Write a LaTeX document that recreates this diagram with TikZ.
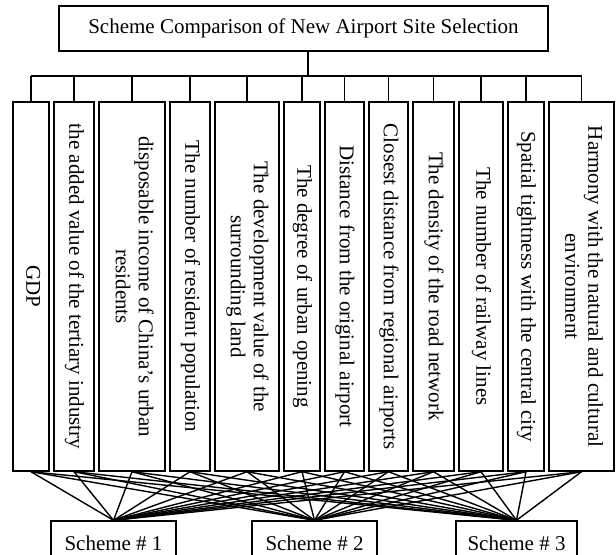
\documentclass[tikz,border=0pt]{standalone}
\usepackage{fontspec}
\setmainfont{Liberation Serif}
\usepackage{graphicx}
\usetikzlibrary{positioning}
\newcommand{\vtext}[1]{\rotatebox{-90}{\begin{tabular}{@{}c@{}}#1\end{tabular}}}

\begin{document}
\fontsize{10.5}{11.5}\selectfont
\begin{tikzpicture}[x=0.5pt,y=-0.5pt,line width=0.7pt,node distance=1.8pt,
  crit/.style={draw,minimum height=184.5pt,inner sep=0pt},
  scheme/.style={draw,minimum width=62.5pt,minimum height=22.5pt,inner sep=0pt}]
\useasboundingbox (0,0) rectangle (616,554);
\node[draw,minimum width=244.5pt,minimum height=22.5pt] (g) at (303.5,28.5) {Scheme Comparison of New Airport Site Selection};
\coordinate (h) at (308,76);
\node[crit,minimum width=18pt] (c1) at (31,286.5) {\vtext{GDP}};
\node[crit,minimum width=20pt] (c2) [right=of c1] {\vtext{the added value of the tertiary industry}};
\node[crit,minimum width=33pt] (c3) [right=of c2] {\vtext{disposable income of China's urban\\residents}};
\node[crit,minimum width=20pt] (c4) [right=of c3] {\vtext{The number of resident population}};
\node[crit,minimum width=32pt] (c5) [right=of c4] {\vtext{The development value of the\\surrounding land}};
\node[crit,minimum width=18pt] (c6) [right=of c5] {\vtext{The degree of urban opening}};
\node[crit,minimum width=19.5pt] (c7) [right=of c6] {\vtext{Distance from the original airport}};
\node[crit,minimum width=19.5pt] (c8) [right=of c7] {\vtext{Closest distance from regional airports}};
\node[crit,minimum width=20.5pt] (c9) [right=of c8] {\vtext{The density of the road network}};
\node[crit,minimum width=22pt] (c10) [right=of c9] {\vtext{The number of railway lines}};
\node[crit,minimum width=18pt] (c11) [right=of c10] {\vtext{Spatial tightness with the central city}};
\node[crit,minimum width=32.5pt] (c12) [right=of c11] {\vtext{Harmony with the natural and cultural\\environment}};
\node[scheme] (s1) at (113.5,543.5) {Scheme \# 1};
\node[scheme] (s2) at (314.5,543.5) {Scheme \# 2};
\node[scheme,minimum width=60.5pt] (s3) at (516.5,543.5) {Scheme \# 3};
% tree on top
\draw (g.south -| h) -- (h);
\draw (c1.north |- h) -- (c12.north |- h);
\foreach \i in {1,...,12}
  \draw (c\i.north) -- (c\i.north |- h);
% every criterion to every scheme
\path (c1.south) edge (s1.north) edge (s2.north) edge (s3.north);
\path (c2.south) edge (s1.north) edge (s2.north) edge (s3.north);
\path (c3.south) edge (s1.north) edge (s2.north) edge (s3.north);
\path (c4.south) edge (s1.north) edge (s2.north) edge (s3.north);
\path (c5.south) edge (s1.north) edge (s2.north) edge (s3.north);
\path (c6.south) edge (s1.north) edge (s2.north) edge (s3.north);
\path (c7.south) edge (s1.north) edge (s2.north) edge (s3.north);
\path (c8.south) edge (s1.north) edge (s2.north) edge (s3.north);
\path (c9.south) edge (s1.north) edge (s2.north) edge (s3.north);
\path (c10.south) edge (s1.north) edge (s2.north) edge (s3.north);
\path (c11.south) edge (s1.north) edge (s2.north) edge (s3.north);
\path (c12.south) edge (s1.north) edge (s2.north) edge (s3.north);
\end{tikzpicture}
\end{document}
